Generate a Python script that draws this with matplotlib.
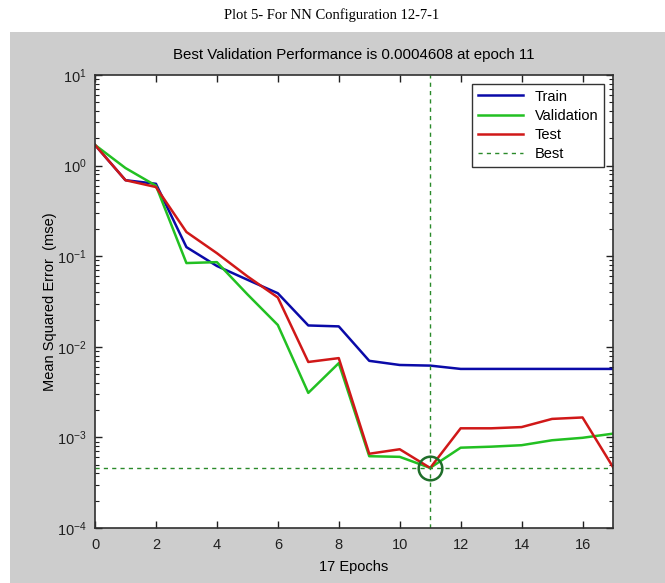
import matplotlib
matplotlib.use("Agg")
import matplotlib.pyplot as plt
from matplotlib.patches import Rectangle
from matplotlib.ticker import LogLocator, NullFormatter, MultipleLocator
import numpy as np

# data (mse per epoch)
epochs = list(range(18))
train = [1.69, 0.69, 0.63, 0.126, 0.078, 0.055, 0.039, 0.0172, 0.0168, 0.0070,
         0.0063, 0.0062, 0.0057, 0.0057, 0.0057, 0.0057, 0.0057, 0.0057]
valid = [1.69, 0.94, 0.60, 0.084, 0.086, 0.038, 0.0174, 0.0031, 0.0066, 0.00062,
         0.00061, 0.0004608, 0.00077, 0.00079, 0.00082, 0.00093, 0.00099, 0.0011]
test = [1.69, 0.69, 0.58, 0.185, 0.108, 0.060, 0.035, 0.0068, 0.0075, 0.00066,
        0.00074, 0.00046, 0.00126, 0.00126, 0.0013, 0.0016, 0.00166, 0.00047]
best_epoch = 11
best_perf = 0.0004608

W, H = 665, 583
plt.rcParams.update({"font.family": ["Liberation Sans", "DejaVu Sans"],
                     "font.size": 10, "mathtext.default": "regular"})

fig = plt.figure(figsize=(W / 100, H / 100), dpi=100, facecolor="white")
# grey panel like the MATLAB figure window
fig.patches.append(Rectangle((10 / W, 0), 1, 1 - 32 / H, transform=fig.transFigure,
                             facecolor="#cdcdcd", edgecolor="none", zorder=-10))

ax = fig.add_axes([95 / W, 1 - 528 / H, (613 - 95) / W, (528 - 75) / H])
ax.set_facecolor("white")

ax.plot(epochs, train, color="#0a0aa8", lw=1.8, label="Train")
ax.plot(epochs, valid, color="#22c022", lw=1.8, label="Validation")
ax.plot(epochs, test, color="#d01818", lw=1.8, label="Test")
ax.axvline(best_epoch, color="#2a8a2a", lw=1.0, ls=(0, (3, 3)))
ax.axhline(best_perf, color="#2a8a2a", lw=1.0, ls=(0, (3, 3)), label="Best")
ax.plot([best_epoch], [best_perf], "o", ms=17, mfc="none", mec="#1f6e2a", mew=1.8)

ax.set_yscale("log")
ax.set_xlim(0, 17)
ax.set_ylim(1e-4, 1e1)
ax.xaxis.set_major_locator(MultipleLocator(2))
ax.yaxis.set_major_locator(LogLocator(base=10, numticks=10))
ax.yaxis.set_minor_locator(LogLocator(base=10, subs=np.arange(2, 10), numticks=10))
ax.yaxis.set_minor_formatter(NullFormatter())
ax.tick_params(which="both", direction="in", top=True, right=True, labelsize=10.5,
               colors="#202020")
ax.tick_params(which="major", length=5, width=1)
ax.tick_params(which="minor", length=3, width=0.8)
ax.tick_params(axis="x", pad=7)
ax.tick_params(axis="y", pad=6)
for s in ax.spines.values():
    s.set_color("#303030")
    s.set_linewidth(1.2)

ax.set_xlabel("17 Epochs", fontsize=10.5, labelpad=6)
ax.set_ylabel("Mean Squared Error  (mse)", fontsize=10.5, labelpad=0)

leg = ax.legend(loc="upper right", fontsize=10.5, frameon=True, fancybox=False,
                handlelength=3.1, borderaxespad=0.6, labelspacing=0.35)
leg.get_frame().set_edgecolor("black")
leg.get_frame().set_linewidth(1.0)

fig.text(354 / W, 1 - 55 / H, "Best Validation Performance is 0.0004608 at epoch 11",
         ha="center", va="center", fontsize=10.8)
fig.text(332 / W, 1 - 15 / H, "Plot 5- For NN Configuration 12-7-1",
         ha="center", va="center", fontsize=10.5, family="Liberation Serif")

fig.savefig("out.png", dpi=100)
